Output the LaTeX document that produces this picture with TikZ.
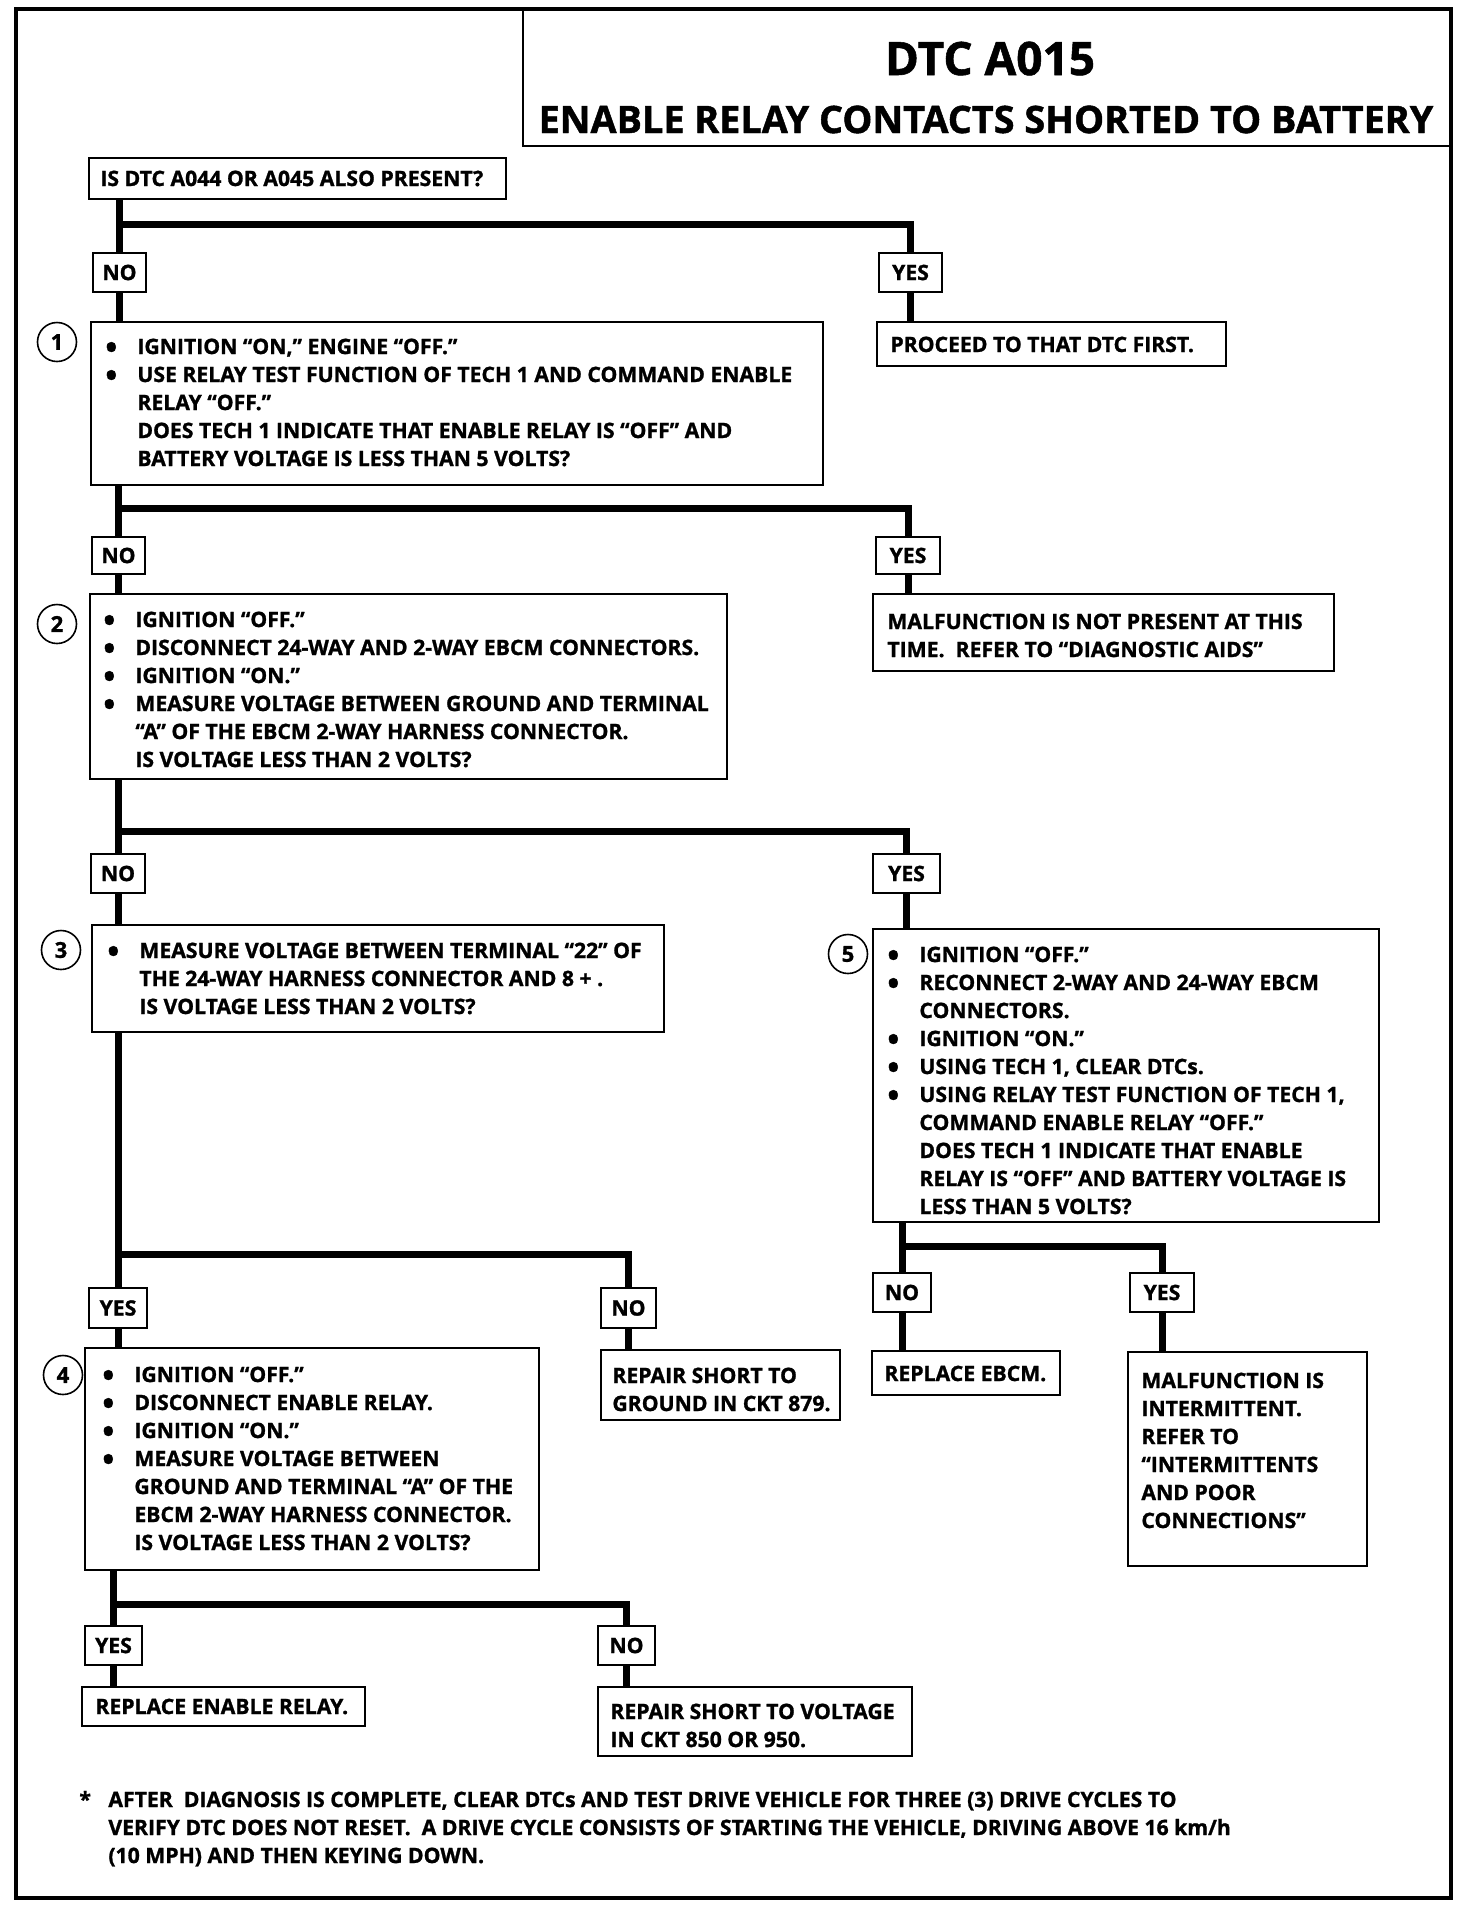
\documentclass[tikz,border=0pt]{standalone}
\usepackage{fontspec}
\setmainfont{Open Sans}[BoldFeatures={FakeBold=1.2}]
\usetikzlibrary{fit,calc}
\newcommand\bodyfont{\bfseries\fontsize{10.6}{14}\selectfont}
\newcommand\bul{\makebox[16pt][l]{\raisebox{-0.22em}{\scalebox{1.5}{\textbullet}}}}
\newcommand\ind{\hspace*{16pt}}
\newcommand\lab[6]{\node[lbl, minimum width={(#4-#2)*0.5pt}, minimum height={(#5-#3)*0.5pt}] (#1) at ({(#2+#4)/2},{(#3+#5)/2}) {#6};}
\begin{document}
\begin{tikzpicture}[x=0.5pt,y=-0.5pt,
  box/.style={draw, line width=1pt, inner sep=0pt},
  lbl/.style={draw, line width=1pt, inner sep=0pt, font=\bodyfont},
  conn/.style={line width=3.5pt},
  txt/.style={inner sep=0pt, align=left, font=\bodyfont, anchor=north west},
  num/.style={draw, circle, line width=0.8pt, minimum size=19.5pt, inner sep=0pt, font=\bfseries\fontsize{11}{13}\selectfont},
]
\useasboundingbox (0,0) rectangle (1472,1912);
% frame and title
\node[draw, line width=2pt, inner sep=0pt, fit={(16,9) (1451,1898)}] (frame) {};
\node[box, fit={(523,9) (1451,146)}] (titlebox) {};
\node[inner sep=0pt, anchor=base, font=\bfseries\fontsize{23}{26}\selectfont] (ttl1) at (990,75) {DTC A015};
\node[inner sep=0pt, anchor=base, font=\bfseries\fontsize{18.9}{22}\selectfont] (ttl2) at (986,133) {ENABLE RELAY CONTACTS SHORTED TO BATTERY};

% question 0
\node[box, fit={(89,158) (506,199)}] (q0) {};
\node[txt, anchor=base west] (q0t) at (100,186) {IS DTC A044 OR A045 ALSO PRESENT?};
\lab{no1}{93}{253}{146}{292}{NO}
\lab{yes1}{879}{253}{942}{292}{YES}
\node[box, fit={(877,322) (1226,366)}] (pro) {};
\node[txt, anchor=base west] (prot) at (890,352) {PROCEED TO THAT DTC FIRST.};

% step 1
\node[num] (c1) at (57,342) {1};
\node[box, fit={(91,322) (823,485)}] (b1) {};
\node[txt] (b1t) at (105,334) {\strut\bul IGNITION “ON,” ENGINE “OFF.”\\
\bul USE RELAY TEST FUNCTION OF TECH 1 AND COMMAND ENABLE\\
\ind RELAY “OFF.”\\
\ind DOES TECH 1 INDICATE THAT ENABLE RELAY IS “OFF” AND\\
\ind BATTERY VOLTAGE IS LESS THAN 5 VOLTS?};
\lab{no2}{92}{537}{145}{574}{NO}
\lab{yes2}{876}{537}{940}{574}{YES}
\node[box, fit={(873,594) (1334,671)}] (m1) {};
\node[txt] (m1t) at (887,609) {\strut MALFUNCTION IS NOT PRESENT AT THIS\\
TIME.\ \ REFER TO “DIAGNOSTIC AIDS”};

% step 2
\node[num] (c2) at (57,624) {2};
\node[box, fit={(90,594) (727,779)}] (b2) {};
\node[txt] (b2t) at (103,607) {\strut\bul IGNITION “OFF.”\\
\bul DISCONNECT 24-WAY AND 2-WAY EBCM CONNECTORS.\\
\bul IGNITION “ON.”\\
\bul MEASURE VOLTAGE BETWEEN GROUND AND TERMINAL\\
\ind “A” OF THE EBCM 2-WAY HARNESS CONNECTOR.\\
\ind IS VOLTAGE LESS THAN 2 VOLTS?};
\lab{no3}{91}{854}{145}{893}{NO}
\lab{yes3}{873}{854}{940}{893}{YES}

% step 3
\node[num] (c3) at (61,950) {3};
\node[box, fit={(92,925) (664,1032)}] (b3) {};
\node[txt] (b3t) at (107,938) {\strut\bul MEASURE VOLTAGE BETWEEN TERMINAL “22” OF\\
\ind THE 24-WAY HARNESS CONNECTOR AND 8 + .\\
\ind IS VOLTAGE LESS THAN 2 VOLTS?};

% step 5
\node[num] (c5) at (848,954) {5};
\node[box, fit={(873,929) (1379,1222)}] (b5) {};
\node[txt] (b5t) at (887,942) {\strut\bul IGNITION “OFF.”\\
\bul RECONNECT 2-WAY AND 24-WAY EBCM\\
\ind CONNECTORS.\\
\bul IGNITION “ON.”\\
\bul USING TECH 1, CLEAR DTCs.\\
\bul USING RELAY TEST FUNCTION OF TECH 1,\\
\ind COMMAND ENABLE RELAY “OFF.”\\
\ind DOES TECH 1 INDICATE THAT ENABLE\\
\ind RELAY IS “OFF” AND BATTERY VOLTAGE IS\\
\ind LESS THAN 5 VOLTS?};
\lab{no6}{873}{1273}{931}{1312}{NO}
\lab{yes6}{1130}{1273}{1194}{1312}{YES}
\node[box, fit={(872,1351) (1060,1395)}] (rebcm) {};
\node[txt, anchor=base west] (rebcmt) at (884,1381) {REPLACE EBCM.};
\node[box, fit={(1128,1352) (1367,1566)}] (m2) {};
\node[txt] (m2t) at (1141,1368) {\strut MALFUNCTION IS\\
INTERMITTENT.\\
REFER TO\\
“INTERMITTENTS\\
AND POOR\\
CONNECTIONS”};

% after step 3
\lab{yes4}{89}{1288}{147}{1328}{YES}
\lab{no4}{601}{1288}{656}{1328}{NO}
\node[box, fit={(601,1350) (840,1420)}] (rg) {};
\node[txt] (rgt) at (612,1363) {\strut REPAIR SHORT TO\\
GROUND IN CKT 879.};

% step 4
\node[num] (c4) at (63,1375) {4};
\node[box, fit={(85,1348) (539,1570)}] (b4) {};
\node[txt] (b4t) at (102,1362) {\strut\bul IGNITION “OFF.”\\
\bul DISCONNECT ENABLE RELAY.\\
\bul IGNITION “ON.”\\
\bul MEASURE VOLTAGE BETWEEN\\
\ind GROUND AND TERMINAL “A” OF THE\\
\ind EBCM 2-WAY HARNESS CONNECTOR.\\
\ind IS VOLTAGE LESS THAN 2 VOLTS?};
\lab{yes7}{85}{1626}{142}{1665}{YES}
\lab{no7}{598}{1626}{655}{1665}{NO}
\node[box, fit={(82,1687) (365,1726)}] (rer) {};
\node[txt, anchor=base west] (rert) at (95,1714) {REPLACE ENABLE RELAY.};
\node[box, fit={(598,1687) (912,1756)}] (rv) {};
\node[txt] (rvt) at (610,1699) {\strut REPAIR SHORT TO VOLTAGE\\
IN CKT 850 OR 950.};

% footnote
\node[txt] (fn) at (79,1787) {\strut\makebox[14.5pt][l]{*}AFTER\ \ DIAGNOSIS IS COMPLETE, CLEAR DTCs AND TEST DRIVE VEHICLE FOR THREE (3) DRIVE CYCLES TO\\
\hspace*{14.5pt}VERIFY DTC DOES NOT RESET.\ \ A DRIVE CYCLE CONSISTS OF STARTING THE VEHICLE, DRIVING ABOVE 16 km/h\\
\hspace*{14.5pt}(10 MPH) AND THEN KEYING DOWN.};

% connectors
\coordinate (h1) at (0,224);
\coordinate (h2) at (0,508);
\coordinate (h3) at (0,831);
\coordinate (h4) at (0,1254);
\coordinate (h5) at (0,1604);
\coordinate (h6) at (0,1246);

\draw[conn] (q0.south -| no1.north) -- (no1.north);
\draw[conn] (no1.north |- h1) -- (yes1.north |- h1) -- (yes1.north);
\draw[conn] (no1.south) -- (no1.south |- b1.north);
\draw[conn] (yes1.south) -- (yes1.south |- pro.north);

\draw[conn] (b1.south -| no2.north) -- (no2.north);
\draw[conn] (no2.north |- h2) -- (yes2.north |- h2) -- (yes2.north);
\draw[conn] (no2.south) -- (no2.south |- b2.north);
\draw[conn] (yes2.south) -- (yes2.south |- m1.north);

\draw[conn] (b2.south -| no3.north) -- (no3.north);
\draw[conn] (no3.north |- h3) -- (yes3.north |- h3) -- (yes3.north);
\draw[conn] (no3.south) -- (no3.south |- b3.north);
\draw[conn] (yes3.south) -- (yes3.south |- b5.north);

\draw[conn] (b3.south -| yes4.north) -- (yes4.north);
\draw[conn] (yes4.north |- h4) -- (no4.north |- h4) -- (no4.north);
\draw[conn] (yes4.south) -- (yes4.south |- b4.north);
\draw[conn] (no4.south) -- (no4.south |- rg.north);

\draw[conn] (b5.south -| no6.north) -- (no6.north);
\draw[conn] (no6.north |- h6) -- (yes6.north |- h6) -- (yes6.north);
\draw[conn] (no6.south) -- (no6.south |- rebcm.north);
\draw[conn] (yes6.south) -- (yes6.south |- m2.north);

\draw[conn] (b4.south -| yes7.north) -- (yes7.north);
\draw[conn] (yes7.north |- h5) -- (no7.north |- h5) -- (no7.north);
\draw[conn] (yes7.south) -- (yes7.south |- rer.north);
\draw[conn] (no7.south) -- (no7.south |- rv.north);
\end{tikzpicture}
\end{document}
